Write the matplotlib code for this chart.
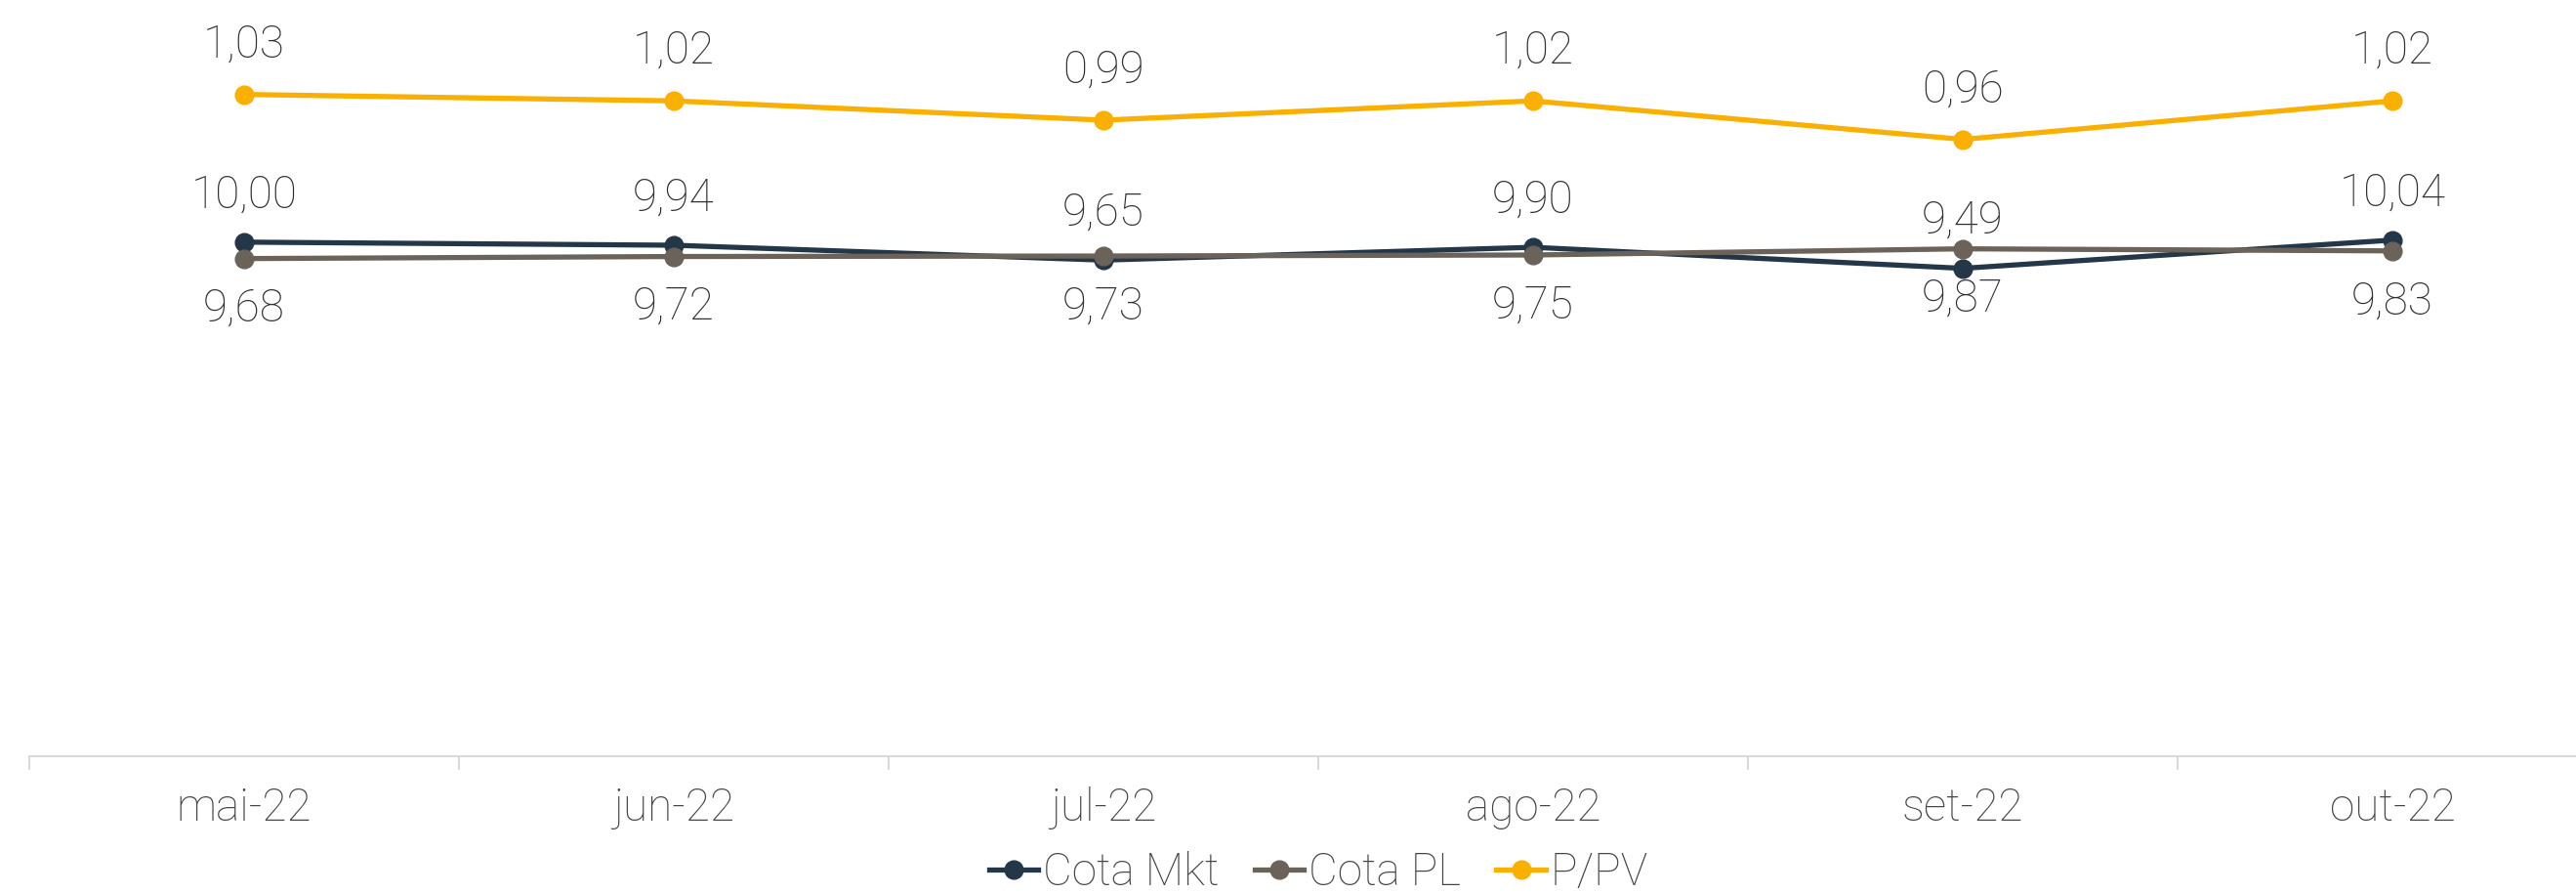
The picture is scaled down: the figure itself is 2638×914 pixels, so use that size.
import matplotlib
matplotlib.use("Agg")
import matplotlib.pyplot as plt
import numpy as np

plt.rcParams['font.family'] = ['Roboto', 'DejaVu Sans']
plt.rcParams['font.weight'] = 'light'

meses = ['mai-22', 'jun-22', 'jul-22', 'ago-22', 'set-22', 'out-22']
cota_mkt = [10.00, 9.94, 9.65, 9.90, 9.49, 10.04]
cota_pl = [9.68, 9.72, 9.73, 9.75, 9.87, 9.83]
p_pv = [1.03, 1.02, 0.99, 1.02, 0.96, 1.02]

c_mkt = '#233748'
c_pl = '#6b6259'
c_ppv = '#f9b000'
c_txt = '#2e2e2e'
c_tick = '#444444'

def fmt(v):
    return f'{v:.2f}'.replace('.', ',')

fig = plt.figure(figsize=(26.38, 9.14), dpi=100)
ax = fig.add_axes([30 / 2638, 140 / 914, 2640 / 2638, 774 / 914])
ax2 = ax.twinx()

x = np.arange(len(meses))
l1, = ax.plot(x, cota_mkt, color=c_mkt, lw=3.8, marker='o', ms=13.5, label='Cota Mkt', zorder=3)
l2, = ax.plot(x, cota_pl, color=c_pl, lw=3.8, marker='o', ms=13.5, label='Cota PL', zorder=4)
l3, = ax2.plot(x, p_pv, color=c_ppv, lw=3.8, marker='o', ms=13.5, label='P/PV')

for xi, v in zip(x, cota_mkt):
    ax.annotate(fmt(v), (xi, v), xytext=(0, 35), textcoords='offset points',
                ha='center', va='center', fontsize=33, color=c_txt)
for xi, v in zip(x, cota_pl):
    ax.annotate(fmt(v), (xi, v), xytext=(0, -37), textcoords='offset points',
                ha='center', va='center', fontsize=33, color=c_txt)
for xi, v in zip(x, p_pv):
    ax2.annotate(fmt(v), (xi, v), xytext=(0, 37), textcoords='offset points',
                 ha='center', va='center', fontsize=33, color=c_txt)

ax.set_xlim(-0.5, 5.5)
ax.set_ylim(0, 14.71)
ax2.set_ylim(0, 1.177)

ax.set_xticks(x, meses)
ax.set_xticks(np.arange(-0.5, 6, 1), minor=True)
ax.tick_params(axis='x', which='major', length=0, pad=22, labelsize=33, labelcolor=c_tick)
ax.tick_params(axis='x', which='minor', length=10, width=1.5, color='#d9d9d9')
ax.set_yticks([])
ax2.set_yticks([])

for a in (ax, ax2):
    for s in ['top', 'left', 'right']:
        a.spines[s].set_visible(False)
    a.spines['bottom'].set_color('#d9d9d9')
    a.spines['bottom'].set_linewidth(1.5)
ax2.spines['bottom'].set_visible(False)

ax2.legend([l1, l2, l3], ['Cota Mkt', 'Cota PL', 'P/PV'], loc='center',
           bbox_to_anchor=(0.5, -0.154), ncol=3, frameon=False, fontsize=33,
           handlelength=1.1, handletextpad=0.1, columnspacing=0.8,
           labelcolor=c_tick)

fig.savefig('out.png', dpi=100)
